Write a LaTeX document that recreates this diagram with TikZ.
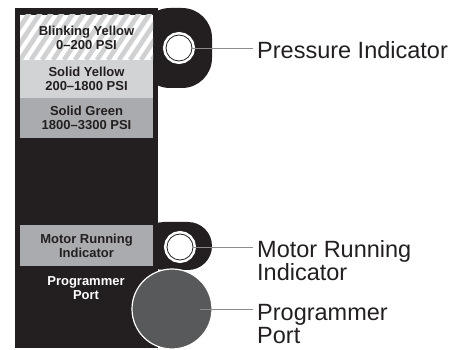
\documentclass[tikz,border=0pt]{standalone}
\usepackage{fontspec}
\setmainfont{Liberation Sans}
\usepackage{tikz}

\definecolor{panel}{HTML}{231F20}
\definecolor{lightband}{HTML}{D2D3D5}
\definecolor{midband}{HTML}{A9ABAE}
\definecolor{stripegray}{HTML}{D0D1D3}
\definecolor{portgray}{HTML}{58595B}
\definecolor{leadgray}{HTML}{8C8C8E}

\begin{document}
\begin{tikzpicture}[x=1pt,y=-1pt,
	band/.style={minimum width=133pt, inner sep=0pt, align=center, text=panel,
		font=\fontsize{13}{14}\selectfont\bfseries},
	lamp/.style={circle, minimum size=26pt, inner sep=0pt, fill=white, draw=panel,
		line width=0.8pt, preaction={draw=white, line width=6pt}},
	callout/.style={anchor=north west, inner xsep=4pt, inner ysep=0pt, align=left,
		text=panel, font=\fontsize{23.5}{22.5}\selectfont},
	leader/.style={draw=leadgray, line width=0.9pt}]
			\useasboundingbox (0,0) rectangle (456,350);
			% panel and the two tabs
			\fill[panel, rounded corners=30pt] (140,8) -- (212,8) -- (212,88) -- (140,88) -- cycle;
			\fill[panel, rounded corners=24pt] (140,222) -- (212,222) -- (212,270) -- (140,270) -- cycle;
			\fill[panel] (15,8) rectangle (158,348);
			% pressure bands
			\node	(blink) at (86.5,37.5) [band, minimum height=45pt, fill=white,
				path picture={\foreach \k in {-6,...,13}
					\draw[stripegray, line width=4.6pt] ([xshift=\k*11pt]path picture bounding box.south west) -- ++(40pt,60pt);}]
				{Blinking Yellow\\0--200 PSI};
			\node	(solidy) at (86.5,79) [band, minimum height=38pt, fill=lightband] {Solid Yellow\\200--1800 PSI};
			\node	(solidg) at (86.5,118) [band, minimum height=40pt, fill=midband] {Solid Green\\1800--3300 PSI};
			\node	(motorb) at (86.5,245.5) [band, minimum height=41pt, fill=midband] {Motor Running\\Indicator};
			\node	(progt) at (86,288.5) [band, text=white] {Programmer\\Port};
			% lamps and port
			\node	(pi) at (179,48) [lamp] {};
			\node	(mri) at (180,247) [lamp] {};
			\node	(port) at (172,309) [circle, minimum size=80pt, inner sep=0pt, fill=portgray, draw=white, line width=1.2pt] {};
			% callouts
			\node	(plbl) at (253,41.5) [callout] {Pressure Indicator};
			\node	(mlbl) at (253,240.5) [callout] {Motor Running\\Indicator};
			\node	(glbl) at (253,304.5) [callout] {Programmer\\Port};
			\draw[leader]
			([xshift=-1pt]pi.east) -- (pi.east -| plbl.west)
			([xshift=-1pt]mri.east) -- (mri.east -| mlbl.west)
			([xshift=28pt]port.center) -- (port.center -| glbl.west)
			;
		\end{tikzpicture}
\end{document}
